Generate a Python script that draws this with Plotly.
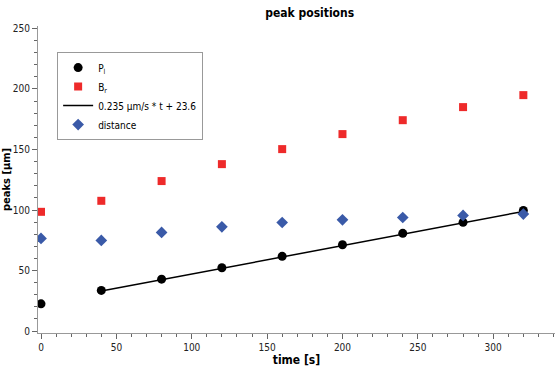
import plotly.graph_objects as go

time_s = [0, 40, 80, 120, 160, 200, 240, 280, 320]
pl = [22.5, 33.6, 42.9, 52.3, 61.7, 71.3, 80.7, 89.8, 99.6]
br = [98.5, 107.6, 123.9, 137.9, 150.3, 162.7, 174.2, 185.0, 194.9]
distance = [76.5, 74.9, 81.5, 86.1, 89.7, 91.9, 93.8, 95.5, 96.6]
fit_t = [40, 320]
slope, intercept = 0.235, 23.6
fit_y = [slope * t + intercept for t in fit_t]

FONT = "DejaVu Sans Condensed"

fig = go.Figure()
fig.add_trace(go.Scatter(x=time_s, y=pl, mode="markers", name="P<sub>l</sub>",
                         marker=dict(symbol="circle", size=9, color="black")))
fig.add_trace(go.Scatter(x=time_s, y=br, mode="markers", name="B<sub>r</sub>",
                         marker=dict(symbol="square", size=8, color="#ee2a2a")))
fig.add_trace(go.Scatter(x=fit_t, y=fit_y, mode="lines", name="0.235 µm/s * t + 23.6",
                         line=dict(color="black", width=1.5)))
fig.add_trace(go.Scatter(x=time_s, y=distance, mode="markers", name="distance",
                         marker=dict(symbol="diamond", size=9, color="#3a5aa8")))

axis_common = dict(showgrid=False, zeroline=False, showline=True, linecolor="#999999",
                   linewidth=1, ticks="outside", ticklen=5, tickcolor="#666666",
                   tickfont=dict(family=FONT, size=10, color="#222"))

fig.update_layout(
    width=558, height=367,
    margin=dict(l=38, r=3, t=26, b=34),
    plot_bgcolor="white", paper_bgcolor="white",
    title=dict(text="<b>peak positions</b>", x=0.555, xanchor="center", y=0.965, yanchor="middle",
               font=dict(family=FONT, size=12, color="black")),
    xaxis=dict(range=[-2, 341], dtick=50, tick0=0,
               minor=dict(dtick=10, ticks="outside", ticklen=3, tickcolor="#666666"),
               title=dict(text="<b>time [s]</b>", font=dict(family=FONT, size=12, color="black"), standoff=0),
               **axis_common),
    yaxis=dict(range=[-1.6, 252], dtick=50, tick0=0,
               minor=dict(dtick=10, ticks="outside", ticklen=3, tickcolor="#666666"),
               title=dict(text="<b>peaks [µm]</b>", font=dict(family=FONT, size=11, color="black"), standoff=0),
               **axis_common),
    legend=dict(x=0.037, y=0.915, xanchor="left", yanchor="top",
                bordercolor="#999999", borderwidth=1, bgcolor="white",
                font=dict(family=FONT, size=10, color="black"),
                tracegroupgap=0, itemwidth=30),
    showlegend=True,
)

fig.write_html("out.html")
